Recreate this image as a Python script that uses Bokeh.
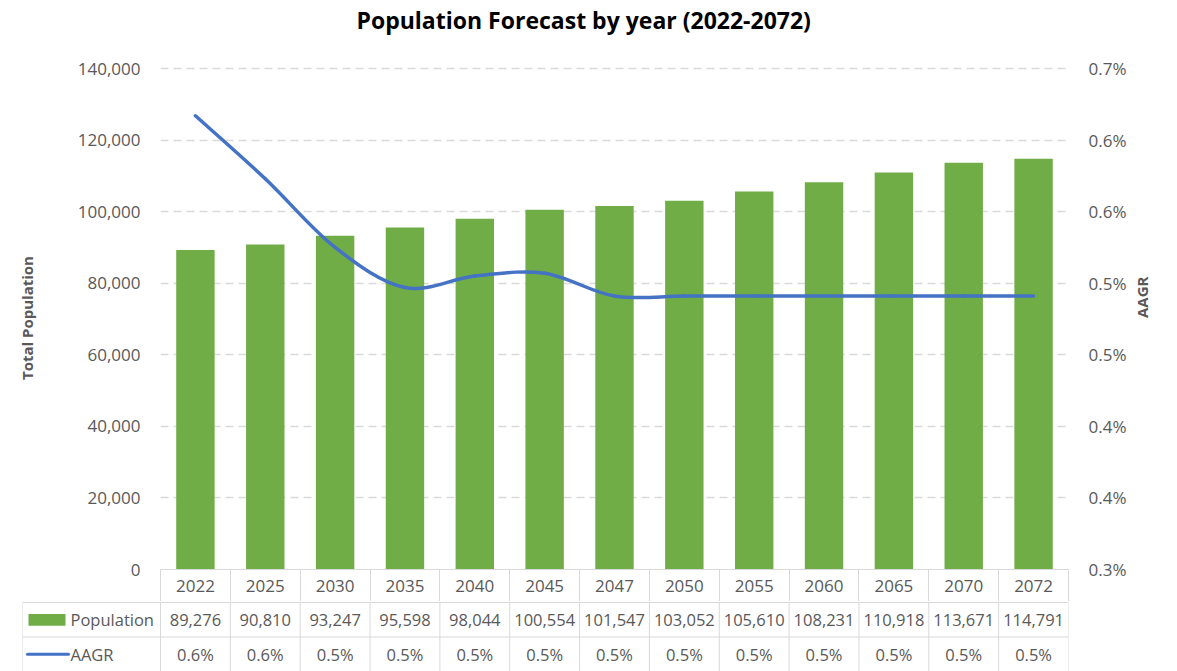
import math
from bokeh.plotting import figure
from bokeh.models import Range1d, LinearAxis, FixedTicker, NumeralTickFormatter, ColumnDataSource, Title
from bokeh.embed import file_html
from bokeh.resources import INLINE
from bokeh.core.properties import value

# ---------------- data ----------------
title_text = "Population Forecast by year (2022-2072)"
years = ["2022", "2025", "2030", "2035", "2040", "2045", "2047",
         "2050", "2055", "2060", "2065", "2070", "2072"]
population = [89276, 90810, 93247, 95598, 98044, 100554, 101547,
              103052, 105610, 108231, 110918, 113671, 114791]
aagr = [0.617, 0.573, 0.525, 0.497, 0.505, 0.507, 0.491,
        0.491, 0.491, 0.491, 0.491, 0.491, 0.491]   # percent
left_ticks = [0, 20000, 40000, 60000, 80000, 100000, 120000, 140000]
right_ticks = [0.30, 0.35, 0.40, 0.45, 0.50, 0.55, 0.60, 0.65]
right_tick_labels = ["0.3%", "0.4%", "0.4%", "0.5%", "0.5%", "0.6%", "0.6%", "0.7%"]
series_names = ["Population", "AAGR"]

# ---------------- style / layout ----------------
FONT = "Open Sans"
GREEN = "#70ad47"
BLUE = "#4472c4"
GRID = "#d9d9d9"
TXT = "#595959"
W = 1177
BL_A, BR, BL_B = 160, 109, 22
TOP, PAD = 66, 2           # frame top; extra pixels above the top gridline
PLOT_H = 501               # pixels from top gridline to zero line
HEADER = 32
frame_h = PLOT_H + PAD
H_A = TOP + frame_h + HEADER
H_B = 671 - H_A
n = len(years)
idx = list(range(n))
bounds = [i - 0.5 for i in range(n + 1)]
cat_w = (W - BL_A - BR) / n

y_end = left_ticks[-1] + PAD * (left_ticks[-1] - left_ticks[0]) / PLOT_H
r_end = right_ticks[-1] + PAD * (right_ticks[-1] - right_ticks[0]) / PLOT_H

# ---------------- chart figure ----------------
p = figure(width=W, height=H_A, output_backend="svg", toolbar_location=None,
           x_range=Range1d(-0.5, n - 0.5), y_range=Range1d(left_ticks[0], y_end),
           min_border_left=BL_A, min_border_right=BR, min_border_top=TOP, min_border_bottom=HEADER)
p.outline_line_color = None
p.title.visible = False

# spacer (closest to frame) then the real title above it
p.add_layout(Title(text=" ", text_font_size="4px", standoff=24), "above")
p.add_layout(Title(text=title_text, text_font=FONT, text_font_size="23px",
                   text_font_style="bold", text_color="#000000",
                   align="left", offset=196, standoff=0), "above")

p.extra_y_ranges = {"aagr": Range1d(right_ticks[0], r_end)}

# bars
src = ColumnDataSource(dict(x=idx, pop=population))
p.vbar(x="x", top="pop", bottom=0, width=0.55, source=src, fill_color=GREEN, line_color=None)

# smoothed AAGR line (cubic Bezier through the data points)
def tangent(i):
    a, b = max(i - 1, 0), min(i + 1, n - 1)
    return (idx[b] - idx[a]) / 6.0, (aagr[b] - aagr[a]) / 6.0

x0, y0, x1, y1, cx0, cy0, cx1, cy1 = [], [], [], [], [], [], [], []
for i in range(n - 1):
    dxa, dya = tangent(i)
    dxb, dyb = tangent(i + 1)
    x0.append(idx[i]); y0.append(aagr[i])
    x1.append(idx[i + 1]); y1.append(aagr[i + 1])
    cx0.append(idx[i] + dxa); cy0.append(aagr[i] + dya)
    cx1.append(idx[i + 1] - dxb); cy1.append(aagr[i + 1] - dyb)
p.bezier(x0=x0, y0=y0, x1=x1, y1=y1, cx0=cx0, cy0=cy0, cx1=cx1, cy1=cy1,
         line_color=BLUE, line_width=3.5, line_cap="round", y_range_name="aagr")

# left axis
p.yaxis.ticker = FixedTicker(ticks=left_ticks)
p.yaxis.formatter = NumeralTickFormatter(format="0,0")
p.yaxis.axis_label = "Total Population"
p.yaxis.axis_label_text_font = FONT
p.yaxis.axis_label_text_font_size = "15px"
p.yaxis.axis_label_text_font_style = "bold"
p.yaxis.axis_label_text_color = TXT
p.yaxis.axis_label_standoff = 38
p.yaxis.major_label_text_font = FONT
p.yaxis.major_label_text_font_size = "17px"
p.yaxis.major_label_text_color = TXT
p.yaxis.major_label_standoff = 14
p.yaxis.axis_line_color = None
p.yaxis.major_tick_line_color = None
p.yaxis.minor_tick_line_color = None

# right axis
ra = LinearAxis(y_range_name="aagr", ticker=FixedTicker(ticks=right_ticks),
                major_label_overrides=dict(zip(right_ticks, right_tick_labels)),
                axis_label="AAGR")
ra.axis_label_orientation = math.pi / 2
ra.axis_label_text_font = FONT
ra.axis_label_text_font_size = "15px"
ra.axis_label_text_font_style = "bold"
ra.axis_label_text_color = TXT
ra.axis_label_standoff = 13
ra.major_label_text_font = FONT
ra.major_label_text_font_size = "17px"
ra.major_label_text_color = TXT
ra.major_label_standoff = 14
ra.axis_line_color = None
ra.major_tick_line_color = None
ra.minor_tick_line_color = None
p.add_layout(ra, "right")

# x axis = header row of the data table
p.xaxis.ticker = FixedTicker(ticks=idx, minor_ticks=bounds)
p.xaxis.major_label_overrides = {i: y for i, y in zip(idx, years)}
p.xaxis.major_label_text_font = FONT
p.xaxis.major_label_text_font_size = "17px"
p.xaxis.major_label_text_color = TXT
p.xaxis.major_label_standoff = -22
p.xaxis.major_tick_line_color = None
p.xaxis.minor_tick_in = 0
p.xaxis.minor_tick_out = HEADER
p.xaxis.minor_tick_line_color = GRID
p.xaxis.axis_line_color = GRID

# grid
p.xgrid.grid_line_color = None
p.ygrid.ticker = FixedTicker(ticks=left_ticks[1:])
p.ygrid.grid_line_color = GRID
p.ygrid.grid_line_width = 1.5
p.ygrid.grid_line_dash = "8 5"

# ---------------- data table figure ----------------
x_start = (n - 0.5) - (W - BL_B - BR) / cat_w
q = figure(width=W, height=H_B, output_backend="svg", toolbar_location=None,
           x_range=Range1d(x_start, n - 0.5), y_range=Range1d(0, 2.03),
           min_border_left=BL_B, min_border_right=BR, min_border_top=0, min_border_bottom=0,
           x_axis_location=None, y_axis_location=None)
q.outline_line_color = None
q.xgrid.grid_line_color = None
q.ygrid.grid_line_color = None

# table borders
q.segment(x0=[x_start, x_start], y0=[2, 1], x1=[n - 0.5, n - 0.5], y1=[2, 1],
          line_color=GRID, line_width=1)
q.segment(x0=[x_start] + bounds, y0=[0] * (len(bounds) + 1),
          x1=[x_start] + bounds, y1=[2] * (len(bounds) + 1),
          line_color=GRID, line_width=1)

# cell values
pop_labels = [f"{v:,}" for v in population]
aagr_labels = [f"{v:.1f}%" for v in aagr]
q.text(x=idx, y=[1.5] * n, text=pop_labels, text_align="center", text_baseline="middle",
       text_font=value(FONT), text_font_size="16.5px", text_color=TXT)
q.text(x=idx, y=[0.5] * n, text=aagr_labels, text_align="center", text_baseline="middle",
       text_font=value(FONT), text_font_size="16.5px", text_color=TXT)

# legend keys in first column
px = 1.0 / cat_w
q.quad(left=[x_start + 6 * px], right=[x_start + 43 * px], bottom=[1.5 - 0.17], top=[1.5 + 0.17],
       fill_color=GREEN, line_color=None)
q.segment(x0=[x_start + 5 * px], y0=[0.5], x1=[x_start + 46 * px], y1=[0.5],
          line_color=BLUE, line_width=3, line_cap="round")
q.text(x=[x_start + 48 * px] * 2, y=[1.5, 0.5], text=series_names, text_align="left",
       text_baseline="middle", text_font=value(FONT), text_font_size="16.5px", text_color=TXT)

open("out.html", "w").write(file_html([p, q], INLINE))
